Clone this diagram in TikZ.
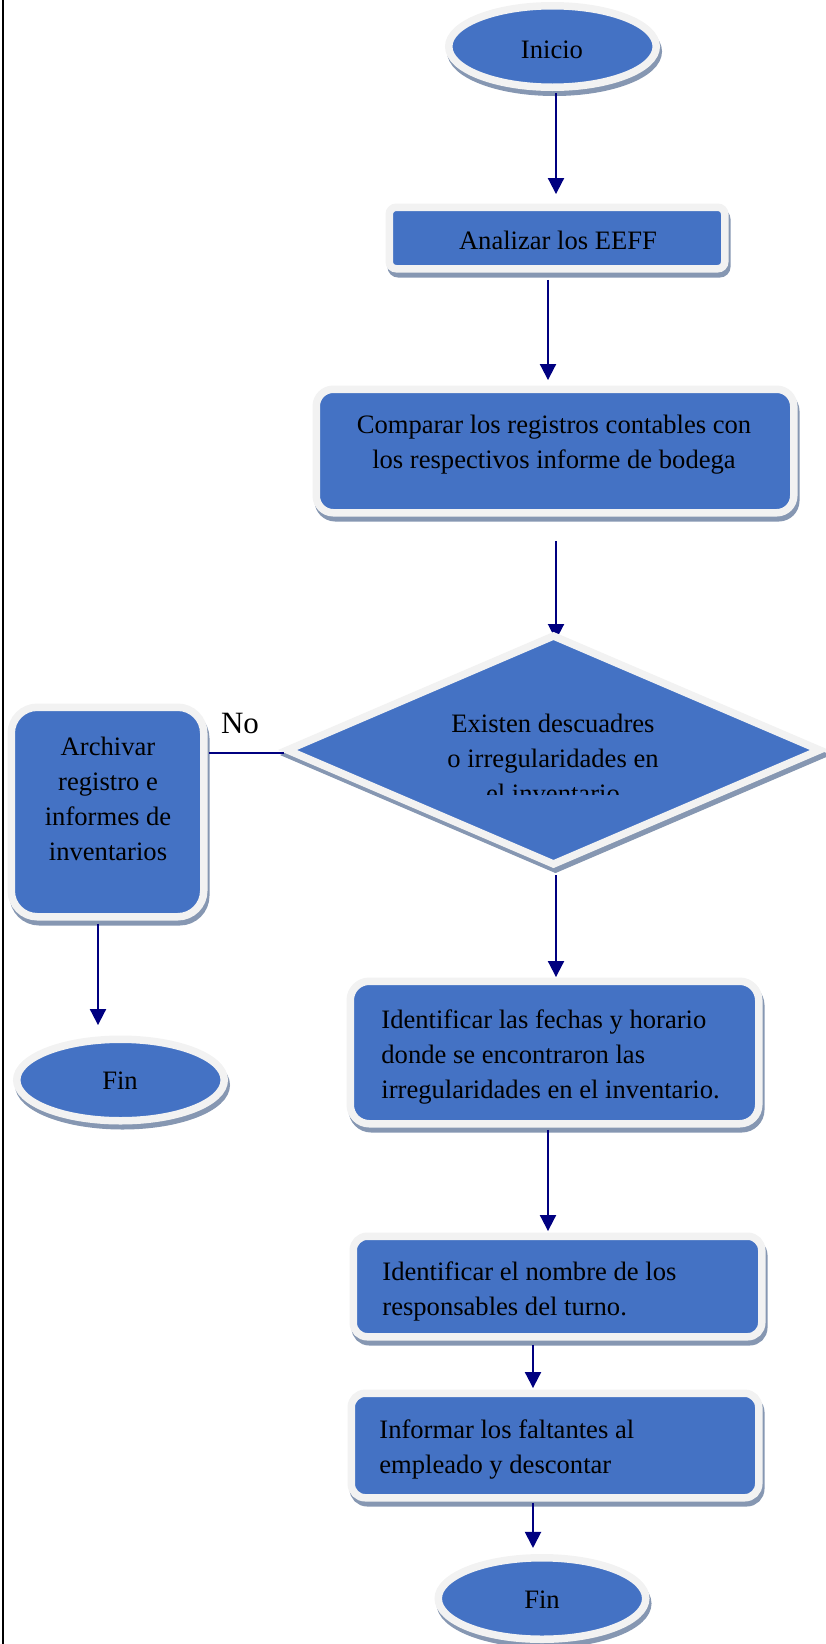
\documentclass[tikz,border=0pt]{standalone}
\usepackage{fontspec}
\setmainfont{Liberation Serif}
\usetikzlibrary{shapes.geometric,shadows,arrows.meta,backgrounds}

\definecolor{flowblue}{RGB}{68,114,196}
\definecolor{rimgray}{RGB}{242,242,242}
\definecolor{shadeblue}{RGB}{134,151,178}
\definecolor{linknavy}{RGB}{0,0,128}

\tikzset{
  box/.style={draw=rimgray,line width=3.75pt,fill=flowblue,inner sep=0pt,outer sep=0pt,
    drop shadow={draw=shadeblue,fill=shadeblue,opacity=1,shadow xshift=1pt,shadow yshift=-2.5pt}},
  proc/.style={box,rectangle,rounded corners=#1},
  proc/.default=8.5pt,
  term/.style={box,ellipse,minimum width=103.75pt,minimum height=40.75pt},
  txt/.style={font=\fontsize{13.3}{17.5}\selectfont,inner sep=0pt},
  link/.style={draw=linknavy,line width=1pt},
  flow/.style={link,-{Triangle[width=8pt,length=8pt]}}
}

\begin{document}
\begin{tikzpicture}[x=0.5pt,y=-0.5pt]
\useasboundingbox (0,0) rectangle (825,1644);
\draw[line width=1pt] (2.5,0) -- (2.5,1644);

\node[term] (inicio) at (552.5,46.5) {};
\node[proc=3.5pt,minimum width=167.75pt,minimum height=30.75pt] (analizar) at (557,238) {};
\node[proc,minimum width=238.75pt,minimum height=61.75pt] (comparar) at (555,451) {};
\node[box,diamond,minimum width=266pt,minimum height=114pt] (decision) at (553.5,750) {};
\node[proc=13pt,minimum width=96.25pt,minimum height=104.75pt] (archivar) at (107.5,812) {};
\node[term] (finA) at (120.5,1080) {};
\node[proc=9.5pt,minimum width=204.25pt,minimum height=71.25pt] (fechas) at (554.5,1052.5) {};
\node[proc=7pt,minimum width=204.25pt,minimum height=50.25pt] (nombre) at (557.5,1286.5) {};
\node[proc=7pt,minimum width=203.75pt,minimum height=52.25pt] (informar) at (555,1445.5) {};
\node[term] (finB) at (542,1598.5) {};

\node[txt,anchor=base] (tInicio) at (552,58) {Inicio};
\node[txt,anchor=base] (tAnalizar) at (558,249) {Analizar los EEFF};
\node[txt,align=center,anchor=north] (tComparar) at (554,415) {Comparar los registros contables con\\los respectivos informe de bodega};
\begin{scope}
\clip (300,700) rectangle (800,794);
\node[txt,align=center,anchor=north] (tDecision) at (553,714) {Existen descuadres\\o irregularidades en\\el inventario};
\end{scope}
\node[txt,align=center,anchor=north] (tArchivar) at (108,737) {Archivar\\registro e\\informes de\\inventarios};
\node[txt,anchor=base] (tFinA) at (120,1089) {Fin};
\node[txt,align=left,anchor=north west] (tFechas) at (381,1009) {Identificar las fechas y horario\\donde se encontraron las\\irregularidades en el inventario.};
\node[txt,align=left,anchor=north west] (tNombre) at (382,1261) {Identificar el nombre de los\\responsables del turno.};
\node[txt,align=left,anchor=north west] (tInformar) at (379,1419) {Informar los faltantes al\\empleado y descontar};
\node[txt,anchor=base] (tFinB) at (542,1608) {Fin};
\node[anchor=base,font=\fontsize{15.5}{18}\selectfont,inner sep=0pt] (tNo) at (240,733) {No};

\draw[flow][shorten <=2.9pt,shorten >=6.6pt] ([xshift=1.75pt]inicio.south) -- ([xshift=-0.5pt]analizar.north);
\draw[flow][shorten <=5.6pt,shorten >=4.6pt] ([xshift=-4.5pt]analizar.south) -- ([xshift=-3.5pt]comparar.north);
\begin{pgfonlayer}{background}
\draw[flow][shorten <=14pt,shorten >=-2pt] ([xshift=0.5pt]comparar.south) -- ([xshift=1.25pt]decision.north);
\end{pgfonlayer}
\draw[link][shorten <=1.75pt,shorten >=2.75pt] ([yshift=-1.5pt]decision.west) -- ([yshift=-1.5pt]decision.west -| archivar.east);
\draw[flow][shorten <=3.6pt,shorten >=7.1pt] ([xshift=-4.75pt]archivar.south) -- ([xshift=-11.25pt]finA.north);
\draw[flow][shorten <=5.5pt,shorten >=2.1pt] ([xshift=1.25pt]decision.south) -- ([xshift=0.75pt]fechas.north);
\draw[flow][shorten <=3.1pt,shorten >=2.6pt] ([xshift=-3.25pt]fechas.south) -- ([xshift=-4.75pt]nombre.north);
\draw[flow][shorten <=4.1pt,shorten >=2.6pt] ([xshift=-12.25pt]nombre.south) -- ([xshift=-11pt]informar.north);
\draw[flow][shorten <=2.6pt,shorten >=4.9pt] ([xshift=-11pt]informar.south) -- ([xshift=-4.5pt]finB.north);
\end{tikzpicture}
\end{document}
